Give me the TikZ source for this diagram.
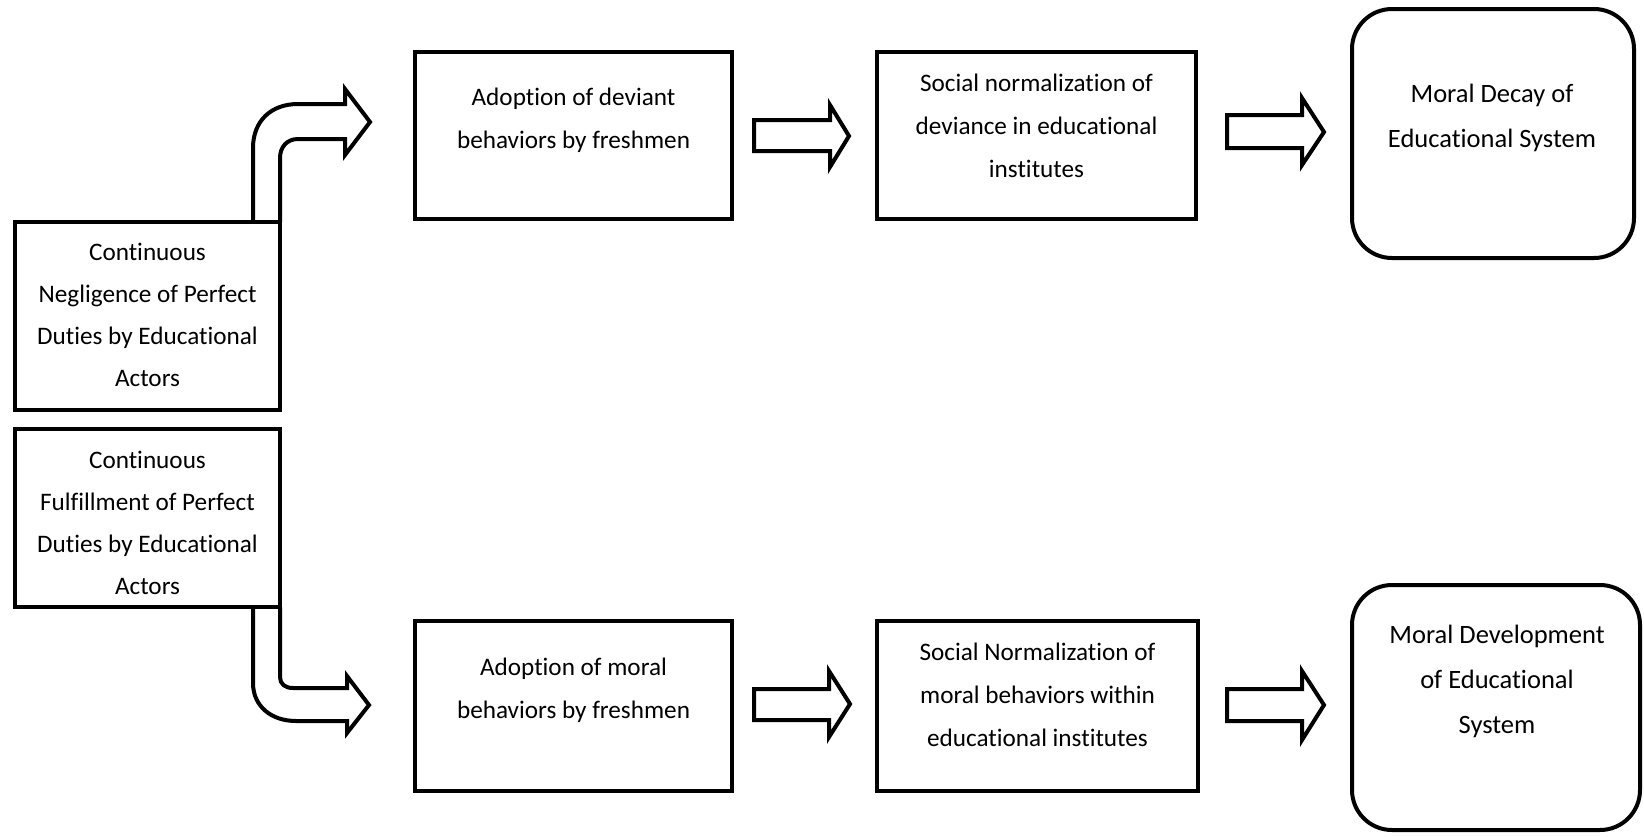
\documentclass[tikz,border=0pt]{standalone}
\usepackage{fontspec}
\setmainfont{Carlito}[Ligatures=NoCommon]
\newcommand\mlines[1]{\begin{tabular}[t]{@{}c@{}}#1\end{tabular}}
\begin{document}
\begin{tikzpicture}[x=1pt,y=-1pt,
  box/.style={draw, line width=4pt, inner sep=0pt},
  rbox/.style={box, rounded corners=40pt},
  txtr/.style={inner sep=0pt, anchor=base, font=\fontsize{25.2}{43}\selectfont},
  txtl/.style={inner sep=0pt, anchor=base, font=\fontsize{25.2}{42}\selectfont},
  txtb/.style={inner sep=0pt, anchor=base, font=\fontsize{26.5}{45}\selectfont},
  blk/.style={draw, line width=4pt, line join=miter, fill=white}]
\useasboundingbox (0,0) rectangle (1644,836);

% left boxes
\node[box, minimum width=265, minimum height=188] (L1) at (147.5,316) {};
\node[box, minimum width=265, minimum height=178] (L2) at (147.5,518) {};
\node[txtl] (tL1) at (147.5,260) {\mlines{Continuous\\Negligence of Perfect\\Duties by Educational\\Actors}};
\node[txtl] (tL2) at (147.5,468) {\mlines{Continuous\\Fulfillment of Perfect\\Duties by Educational\\Actors}};

% top row
\node[box, minimum width=317, minimum height=167] (A1) at (573.5,135.5) {};
\node[box, minimum width=319, minimum height=167] (A2) at (1036.5,135.5) {};
\node[rbox, minimum width=282, minimum height=249] (A3) at (1493,133.5) {};
\node[txtr] (tA1) at (573.5,105) {\mlines{Adoption of deviant\\behaviors by freshmen}};
\node[txtr] (tA2) at (1036.5,91) {\mlines{Social normalization of\\deviance in educational\\institutes}};
\node[txtb] (tA3) at (1492,102) {\mlines{Moral Decay of\\Educational System}};

% bottom row
\node[box, minimum width=317, minimum height=170] (B1) at (573.5,706) {};
\node[box, minimum width=321, minimum height=170] (B2) at (1037.5,706) {};
\node[rbox, minimum width=288, minimum height=245] (B3) at (1496,707.5) {};
\node[txtr] (tB1) at (573.5,675) {\mlines{Adoption of moral\\behaviors by freshmen}};
\node[txtr] (tB2) at (1037.5,660) {\mlines{Social Normalization of\\moral behaviors within\\educational institutes}};
\node[txtb] (tB3) at (1497,643) {\mlines{Moral Development\\of Educational\\System}};

% curved arrows
\draw[blk, fill=none] (253,222) -- (253,148) .. controls (253,121) and (271,104) .. (298,104)
  -- (345,104) -- (345,89) -- (370,122) -- (345,155) -- (345,139) -- (298,139)
  .. controls (287,139) and (280,147) .. (280,158) -- (280,222);
\draw[blk, fill=none] (253,607) -- (253,683) .. controls (253,706) and (271,721) .. (296,721)
  -- (347,721) -- (347,733) -- (369,705) -- (347,676) -- (347,688) -- (293,688)
  .. controls (285,688) and (280,684) .. (280,677) -- (280,607);

% straight block arrows
\draw[blk] (754,120) -- (830,120) -- (830,105) -- (849,136) -- (830,167) -- (830,151) -- (754,151) -- cycle;
\draw[blk] (754,689) -- (829,689) -- (829,671) -- (850,704) -- (829,737) -- (829,720) -- (754,720) -- cycle;
\draw[blk] (1227,115) -- (1302,115) -- (1302,98) -- (1324,132) -- (1302,165) -- (1302,148) -- (1227,148) -- cycle;
\draw[blk] (1227,689) -- (1302,689) -- (1302,671) -- (1324,705) -- (1302,740) -- (1302,721) -- (1227,721) -- cycle;
\end{tikzpicture}
\end{document}
